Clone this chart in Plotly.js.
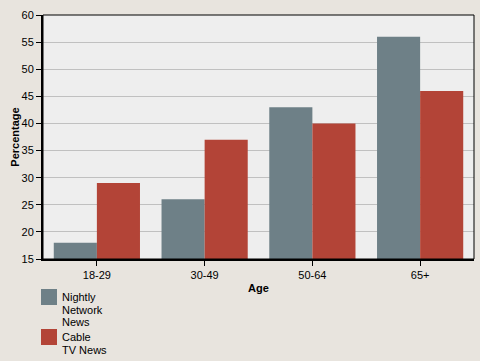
<!DOCTYPE html>
<html><head><meta charset="utf-8">
<script src="https://cdn.plot.ly/plotly-3.0.1.min.js"></script>
<style>html,body{margin:0;padding:0;background:#e8e4de;}#c{width:480px;height:361px;}</style>
</head><body><div id="c"></div>
<script>
var categories = ['18-29', '30-49', '50-64', '65+'];
var nightlyValues = [18, 26, 43, 56];
var cableValues = [29, 37, 40, 46];
var seriesNames = ['Nightly Network News', 'Cable TV News'];
var legendLines = [['Nightly', 'Network', 'News'], ['Cable', 'TV News']];
var yTicks = [15, 20, 25, 30, 35, 40, 45, 50, 55, 60];
var colors = ['#6e8087', '#b34437'];

var font = {family: 'Liberation Sans, Arial, sans-serif', size: 11, color: '#000'};
var traces = [
  {type: 'bar', name: seriesNames[0], x: categories, y: nightlyValues, marker: {color: colors[0]}, hoverinfo: 'none'},
  {type: 'bar', name: seriesNames[1], x: categories, y: cableValues, marker: {color: colors[1]}, hoverinfo: 'none'}
];

function px2x(p) { return (p - 43) / 431; }
function px2y(p) { return (259 - p) / 244; }

var shapes = [
  {type: 'rect', xref: 'paper', yref: 'paper', x0: 0, x1: 1, y0: 0, y1: 1, line: {color: '#000', width: 1}}
];
var annotations = [];
var symTops = [289, 329];
var lineCenters = [[297, 309.5, 322], [337, 350]];
for (var i = 0; i < 2; i++) {
  shapes.push({type: 'rect', xref: 'paper', yref: 'paper', x0: px2x(41), x1: px2x(57), y0: px2y(symTops[i] + 16), y1: px2y(symTops[i]), fillcolor: colors[i], line: {width: 0}});
  for (var j = 0; j < legendLines[i].length; j++) {
    annotations.push({xref: 'paper', yref: 'paper', x: px2x(60), y: px2y(lineCenters[i][j]), xanchor: 'left', yanchor: 'middle', text: legendLines[i][j], showarrow: false, font: font});
  }
}

var layout = {
  width: 480, height: 361,
  margin: {l: 43, r: 6, t: 15, b: 102},
  paper_bgcolor: '#e8e4de', plot_bgcolor: '#eeeeee',
  font: font,
  showlegend: false,
  barmode: 'group', bargap: 0.2, bargroupgap: 0,
  xaxis: {
    type: 'category', showline: true, linecolor: '#000', linewidth: 2,
    ticks: 'outside', ticklen: 5, tickcolor: '#000', tickwidth: 1,
    showgrid: false, tickfont: font,
    title: {text: '<b>Age</b>', font: font, standoff: 4}
  },
  yaxis: {
    range: [15, 60], tickvals: yTicks, showline: true, linecolor: '#000', linewidth: 2,
    ticks: 'outside', ticklen: 5, tickcolor: '#000', tickwidth: 1,
    showgrid: true, gridcolor: '#c0c0c0', gridwidth: 1, zeroline: false, tickfont: font,
    title: {text: '<b>Percentage</b>', font: font, standoff: 0}
  },
  shapes: shapes,
  annotations: annotations
};
Plotly.newPlot('c', traces, layout, {staticPlot: true, displayModeBar: false});
</script>
</body></html>
